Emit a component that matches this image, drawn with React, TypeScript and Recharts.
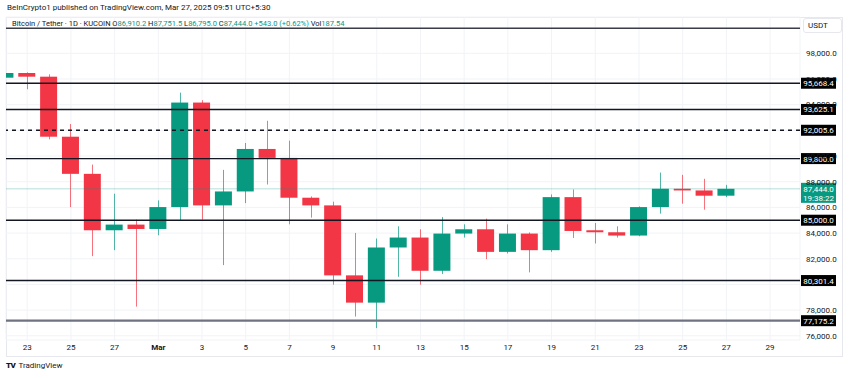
import React from "react";
import {
  ComposedChart,
  Bar,
  XAxis,
  YAxis,
  CartesianGrid,
  ReferenceLine,
} from "recharts";

const UP = "#089981";
const DOWN = "#F23645";
const INK = "#131722";
const FONT = "Roboto, 'Liberation Sans', Arial, sans-serif";

// daily candles, Feb 22 .. Mar 27 2025 (index 0 = Feb 22)
const days = [
  "Feb 22", "Feb 23", "Feb 24", "Feb 25", "Feb 26", "Feb 27", "Feb 28",
  "Mar 1", "Mar 2", "Mar 3", "Mar 4", "Mar 5", "Mar 6", "Mar 7", "Mar 8",
  "Mar 9", "Mar 10", "Mar 11", "Mar 12", "Mar 13", "Mar 14", "Mar 15",
  "Mar 16", "Mar 17", "Mar 18", "Mar 19", "Mar 20", "Mar 21", "Mar 22",
  "Mar 23", "Mar 24", "Mar 25", "Mar 26", "Mar 27",
];
const opens = [
  96100, 96465, 96178, 91504, 88612, 84217, 84659, 84318, 86023, 94163,
  86155, 87240, 90550, 89853, 86752, 86155, 80705, 78581, 82876, 83651,
  81062, 83961, 84295, 82535, 83961, 82667, 86798, 84217, 84062, 83806,
  86023, 87450, 87318, 86910.2,
];
const highs = [
  96930, 96520, 96364, 92488, 89333, 87062, 85047, 86543, 94938, 94349,
  88922, 91016, 92744, 91194, 86853, 86442, 84008, 83574, 84527, 84295,
  85248, 84682, 85124, 84682, 84050, 87008, 87395, 84783, 84527, 86078,
  88713, 88535, 88225, 87751.5,
];
const lows = [
  95690, 95200, 91295, 86023, 82202, 82667, 78271, 83829, 84992, 85047,
  81504, 86333, 87783, 84682, 85202, 79977, 77496, 76597, 80597, 79977,
  80806, 83651, 81969, 82411, 80938, 82535, 83620, 83186, 83651, 83752,
  85512, 86287, 85822, 86795.0,
];
const closes = [
  96465, 96178, 91504, 88612, 84217, 84659, 84318, 86023, 94163, 86155,
  87240, 90550, 89853, 86752, 86155, 80705, 78581, 82876, 83651, 81062,
  83961, 84295, 82535, 83961, 82667, 86798, 84163, 84062, 83806, 86023,
  87450, 87318, 86910, 87444.0,
];

// x-axis ticks (day index) and their labels
const xTicks = [1, 3, 5, 7, 9, 11, 13, 15, 17, 19, 21, 23, 25, 27, 29, 31, 33, 35];
const xLabels = [
  "23", "25", "27", "Mar", "3", "5", "7", "9", "11", "13", "15", "17", "19",
  "21", "23", "25", "27", "29",
];
const yTicks = [76000, 78000, 80000, 82000, 84000, 86000, 88000, 90000, 92000, 94000, 96000, 98000];
// price labels fully covered by level tags in the original
const hiddenYTicks = [92000, 80000];

// drawn horizontal levels
const levels = [95668.4, 93625.1, 92005.6, 89800.0, 85000.0, 80301.4, 77175.2];
const dashedLevels = [92005.6];
const topLine = 99950;
const lastPrice = 87444.0;

const data = days.map((d, i) => ({
  i,
  day: d,
  o: opens[i],
  h: highs[i],
  l: lows[i],
  c: closes[i],
}));

const fmt = (v: number) =>
  v.toLocaleString("en-US", { minimumFractionDigits: 1, maximumFractionDigits: 1 });

function Candle(props: any) {
  const { x, y, width, height, payload } = props;
  if (!payload || height == null) return null;
  const { o, h, l, c } = payload;
  const color = c >= o ? UP : DOWN;
  const y0 = height < 0 ? y + height : y;
  const hh = Math.abs(height);
  const px = hh / (h - l || 1);
  const top = y0 + (h - Math.max(o, c)) * px;
  const bodyH = Math.max(1, Math.abs(o - c) * px);
  const cx = Math.round(x + width / 2) + 0.5;
  return (
    <g>
      <line x1={cx} x2={cx} y1={y0} y2={y0 + hh} stroke={color} strokeOpacity={0.7} />
      <rect x={x} y={top} width={width} height={bodyH} fill={color} />
    </g>
  );
}

function LevelTag({ viewBox, text }: any) {
  if (!viewBox) return null;
  const x = viewBox.x + viewBox.width + 1;
  const y = viewBox.y;
  return (
    <g>
      <rect x={x} y={y - 5.5} width={35} height={11} fill="#000" />
      <text x={x + 17.5} y={y + 3} fill="#fff" fontSize={8} textAnchor="middle" fontFamily={FONT}>
        {text}
      </text>
    </g>
  );
}

function LastTag({ viewBox }: any) {
  if (!viewBox) return null;
  const x = viewBox.x + viewBox.width + 1;
  const y = viewBox.y;
  return (
    <g>
      <rect x={x} y={y - 6} width={35} height={20} fill={UP} />
      <text x={x + 17.5} y={y + 3} fill="#fff" fontSize={8} textAnchor="middle" fontFamily={FONT}>
        {fmt(lastPrice)}
      </text>
      <text x={x + 17.5} y={y + 12} fill="#fff" fontSize={8} textAnchor="middle" fontFamily={FONT}>
        19:38:22
      </text>
    </g>
  );
}

function DayTick({ x, y, payload }: any) {
  const idx = xTicks.indexOf(payload.value);
  const label = xLabels[idx] ?? "";
  return (
    <text
      x={x}
      y={y}
      dy="0.71em"
      textAnchor="middle"
      fontSize={8}
      fill={INK}
      fontFamily={FONT}
      fontWeight={label === "Mar" ? 700 : 400}
    >
      {label}
    </text>
  );
}

const teal = { color: UP };

export default function App() {
  return (
    <div
      style={{
        position: "absolute",
        left: 0,
        top: 0,
        width: 850,
        height: 378,
        background: "#fff",
        fontFamily: FONT,
        overflow: "hidden",
      }}
    >
      {/* widget frame */}
      <div
        style={{
          position: "absolute",
          left: 6,
          top: 17,
          width: 837,
          height: 340,
          border: "1px solid #e6e8ee",
          boxSizing: "border-box",
        }}
      />
      <ComposedChart
        width={850}
        height={378}
        data={data}
        margin={{ top: 17, right: 7, bottom: 21, left: 6 }}
        style={{ position: "absolute", left: 0, top: 0 }}
      >
        <CartesianGrid stroke="#f2f3f7" strokeWidth={1} />
        <XAxis
          dataKey="i"
          type="number"
          domain={[0.03, 36.37]}
          allowDataOverflow
          ticks={xTicks}
          interval={0}
          tick={<DayTick />}
          tickLine={false}
          axisLine={false}
          tickSize={0}
          tickMargin={4}
          height={17}
        />
        <YAxis
          orientation="right"
          domain={[75671, 100827]}
          allowDataOverflow
          ticks={yTicks}
          interval={0}
          tickFormatter={(v: number) => (hiddenYTicks.includes(v) ? "" : fmt(v))}
          tick={{ fontSize: 8, fill: INK, fontFamily: FONT }}
          tickLine={false}
          axisLine={false}
          tickSize={0}
          tickMargin={6}
          width={43}
        />
        <ReferenceLine y={lastPrice} stroke={UP} strokeOpacity={0.3} strokeWidth={1} />
        <ReferenceLine y={topLine} stroke="#3a3d45" strokeWidth={1.5} />
        {levels.map((v) => (
          <ReferenceLine
            key={v}
            y={v}
            stroke={v === 77175.2 ? "#6f7280" : INK}
            strokeWidth={v === 77175.2 ? 2.2 : 1.4}
            strokeDasharray={dashedLevels.includes(v) ? "4 4" : undefined}
          />
        ))}
        <Bar
          dataKey={(d: any) => [d.l, d.h]}
          barSize={17}
          shape={<Candle />}
          isAnimationActive={false}
        />
        {levels.map((v) => (
          <ReferenceLine
            key={"t" + v}
            y={v}
            stroke="none"
            label={(p: any) => <LevelTag viewBox={p.viewBox} text={fmt(v)} />}
          />
        ))}
        <ReferenceLine
          y={lastPrice}
          stroke="none"
          label={(p: any) => <LastTag viewBox={p.viewBox} />}
        />
      </ComposedChart>

      {/* header */}
      <div style={{ position: "absolute", left: 7, top: 3, fontSize: 8, color: INK, whiteSpace: "nowrap" }}>
        BeInCrypto1 published on TradingView.com, Mar 27, 2025 09:51 UTC+5:30
      </div>
      <div style={{ position: "absolute", left: 12, top: 19, fontSize: 7.5, color: INK, whiteSpace: "nowrap" }}>
        Bitcoin / Tether · 1D · KUCOIN O<span style={teal}>86,910.2</span> H
        <span style={teal}>87,751.5</span> L<span style={teal}>86,795.0</span> C
        <span style={teal}>87,444.0</span> <span style={teal}>+543.0 (+0.62%)</span> Vol
        <span style={teal}>187.54</span>
      </div>

      {/* currency badge */}
      <div
        style={{
          position: "absolute",
          left: 803,
          top: 18,
          width: 39,
          height: 15,
          border: "1px solid #e6e8ee",
          borderRadius: 3,
          boxSizing: "border-box",
          background: "#fff",
          fontSize: 8,
          color: INK,
          lineHeight: "13px",
          paddingLeft: 4,
        }}
      >
        USDT
      </div>

      {/* footer */}
      <div
        style={{
          position: "absolute",
          left: 6,
          top: 361,
          fontSize: 8,
          color: INK,
          whiteSpace: "nowrap",
        }}
      >
        <span style={{ fontWeight: 900, letterSpacing: -0.5, marginRight: 3 }}>TV</span>
        TradingView
      </div>
    </div>
  );
}
